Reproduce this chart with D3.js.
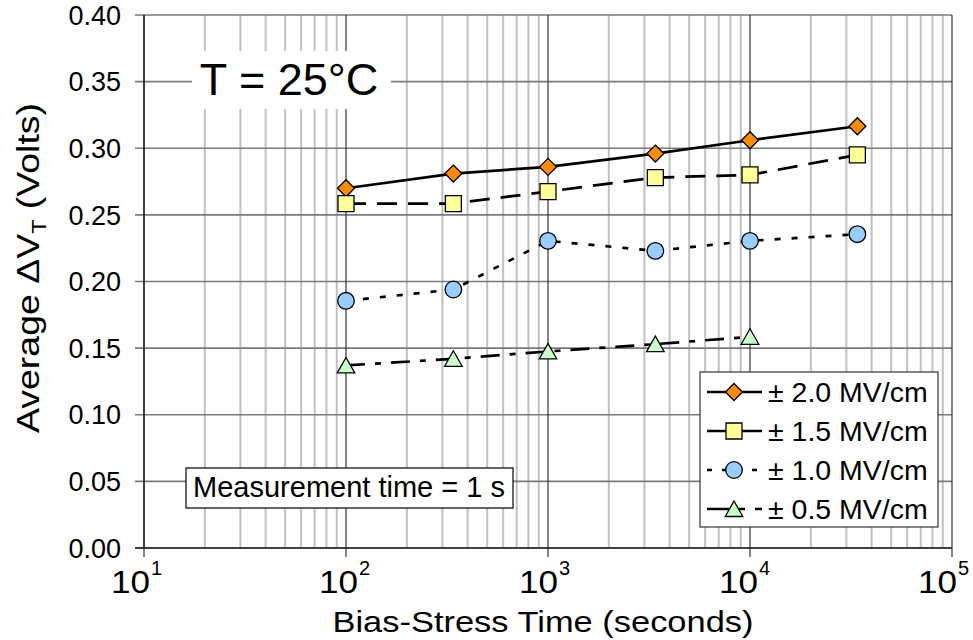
<!DOCTYPE html>
<html>
<head>
<meta charset="utf-8">
<script src="https://cdn.jsdelivr.net/npm/d3@7"></script>
<style>
  html, body { margin: 0; padding: 0; background: #fff; }
  svg { display: block; font-family: "Liberation Sans", Arial, Helvetica, sans-serif; }
</style>
</head>
<body>
<svg id="chart" width="973" height="640"></svg>
<script>
// Bias-stress time (s) and average threshold-voltage shift (V) per field strength
const stressTimes = [100, 340, 1000, 3400, 10000, 34000];
const dvt20 = [0.270, 0.281, 0.286, 0.296, 0.306, 0.3165];
const dvt15 = [0.2585, 0.2585, 0.2675, 0.278, 0.280, 0.295];
const dvt10 = [0.1855, 0.194, 0.2305, 0.223, 0.2305, 0.2355];
const dvt05 = [0.137, 0.142, 0.1475, 0.153, 0.1585];

const seriesLabels = ["± 2.0 MV/cm", "± 1.5 MV/cm", "± 1.0 MV/cm", "± 0.5 MV/cm"];
const yTicks = [0, 0.05, 0.10, 0.15, 0.20, 0.25, 0.30, 0.35, 0.40];
const xDecades = [1, 2, 3, 4, 5];

const svg = d3.select("#chart");
const plotL = 144, plotR = 952, plotT = 15, plotB = 548;

const x = d3.scaleLog().domain([10, 1e5]).range([plotL, plotR]);
const y = d3.scaleLinear().domain([0, 0.4]).range([plotB, plotT]);

// minor vertical grid (2..9 within each decade)
const minor = [];
for (let e = 1; e < 5; e++) for (let k = 2; k <= 9; k++) minor.push(k * Math.pow(10, e));
svg.append("g").selectAll("line").data(minor).join("line")
  .attr("x1", d => x(d)).attr("x2", d => x(d))
  .attr("y1", plotT).attr("y2", plotB)
  .attr("stroke", "#c0c0c0").attr("stroke-width", 2);

// horizontal grid
svg.append("g").selectAll("line").data(yTicks).join("line")
  .attr("x1", plotL - 9).attr("x2", plotR)
  .attr("y1", d => y(d)).attr("y2", d => y(d))
  .attr("stroke", "#7a7a7a").attr("stroke-width", 1.6);

// major vertical grid at decades
svg.append("g").selectAll("line").data(xDecades).join("line")
  .attr("x1", d => x(Math.pow(10, d))).attr("x2", d => x(Math.pow(10, d)))
  .attr("y1", plotT).attr("y2", plotB + 9)
  .attr("stroke", "#333").attr("stroke-width", 1.2);

// axis lines
svg.append("line").attr("x1", plotL).attr("x2", plotL).attr("y1", plotT).attr("y2", plotB)
  .attr("stroke", "#222").attr("stroke-width", 1.4);
svg.append("line").attr("x1", plotL - 9).attr("x2", plotR).attr("y1", plotB).attr("y2", plotB)
  .attr("stroke", "#222").attr("stroke-width", 1.4);

// y tick labels
svg.append("g").selectAll("text").data(yTicks).join("text")
  .attr("x", 121).attr("y", d => y(d)).attr("dy", "0.36em")
  .attr("text-anchor", "end").attr("font-size", 27).attr("fill", "#000")
  .text(d3.format(".2f"));

// x tick labels (10^n): mantissa and exponent as separate texts
const xOffset = [6, 12, 10, 8, 5];
const xg = svg.append("g");
xg.selectAll("text.base").data(xDecades).join("text").attr("class", "base")
  .attr("x", (d, i) => x(Math.pow(10, d)) + xOffset[i]).attr("y", 593)
  .attr("text-anchor", "end").attr("font-size", 32)
  .attr("textLength", 39).attr("lengthAdjust", "spacingAndGlyphs").text("10");
xg.selectAll("text.exp").data(xDecades).join("text").attr("class", "exp")
  .attr("x", (d, i) => x(Math.pow(10, d)) + xOffset[i] + 1).attr("y", 575)
  .attr("font-size", 20).text(d => d);

// axis titles
svg.append("text").attr("x", 543).attr("y", 632).attr("text-anchor", "middle")
  .attr("font-size", 30).attr("textLength", 421).attr("lengthAdjust", "spacingAndGlyphs")
  .text("Bias-Stress Time (seconds)");

const yt = svg.append("text").attr("transform", "translate(39,268) rotate(-90)")
  .attr("text-anchor", "middle").attr("font-size", 32)
  .attr("textLength", 330).attr("lengthAdjust", "spacingAndGlyphs");
yt.append("tspan").text("Average \u0394V");
yt.append("tspan").attr("font-size", 20).attr("dy", 7).text("T");
yt.append("tspan").attr("dy", -7).text(" (Volts)");

// annotation boxes
svg.append("rect").attr("x", 192).attr("y", 51).attr("width", 199).attr("height", 58).attr("fill", "#fff");
svg.append("text").attr("x", 289).attr("y", 95).attr("text-anchor", "middle")
  .attr("font-size", 45).text("T = 25°C");

svg.append("rect").attr("x", 186).attr("y", 468).attr("width", 327).attr("height", 40)
  .attr("fill", "#fff").attr("stroke", "#000").attr("stroke-width", 1.2);
svg.append("text").attr("x", 349).attr("y", 497).attr("text-anchor", "middle")
  .attr("font-size", 29).text("Measurement time = 1 s");

// series
const markerPath = {
  diamond: "M0,-8.5L8.5,0L0,8.5L-8.5,0Z",
  square: "M-8,-8H8V8H-8Z",
  circle: d3.symbol(d3.symbolCircle, Math.PI * 8.3 * 8.3)(),
  triangle: "M0,-8L8.8,7.5H-8.8Z"
};
const series = [
  { values: dvt20, fill: "#FF8C00", marker: "diamond", dash: null },
  { values: dvt15, fill: "#FFFF99", marker: "square", dash: "20,11" },
  { values: dvt10, fill: "#99CCFF", marker: "circle", dash: "6,11" },
  { values: dvt05, fill: "#CCFFCC", marker: "triangle", dash: "19,10,6,10" }
];

const line = d3.line().x(d => x(d[0])).y(d => y(d[1]));
series.forEach(s => {
  const pts = s.values.map((v, i) => [stressTimes[i], v]);
  svg.append("path").datum(pts).attr("d", line)
    .attr("fill", "none").attr("stroke", "#000").attr("stroke-width", 2.7)
    .attr("stroke-dasharray", s.dash);
});
series.forEach(s => {
  const pts = s.values.map((v, i) => [stressTimes[i], v]);
  svg.append("g").selectAll("path").data(pts).join("path")
    .attr("transform", d => `translate(${x(d[0])},${y(d[1])})`)
    .attr("d", markerPath[s.marker])
    .attr("fill", s.fill).attr("stroke", "#000").attr("stroke-width", 1.3);
});

// legend
const lg = svg.append("g");
lg.append("rect").attr("x", 700).attr("y", 372).attr("width", 238).attr("height", 155)
  .attr("fill", "#fff").attr("stroke", "#333").attr("stroke-width", 1.2);
const rowY = [392, 431, 470, 509];
const legendDash = [null, null, "5,10", "22,10,6,10"];
series.forEach((s, i) => {
  lg.append("line").attr("x1", 707).attr("x2", 762).attr("y1", rowY[i]).attr("y2", rowY[i])
    .attr("stroke", "#000").attr("stroke-width", 2.7).attr("stroke-dasharray", legendDash[i]);
  lg.append("path").attr("transform", `translate(734,${rowY[i]})`)
    .attr("d", markerPath[s.marker])
    .attr("fill", s.fill).attr("stroke", "#000").attr("stroke-width", 1.3);
  lg.append("text").attr("x", 768).attr("y", rowY[i] + 10).attr("font-size", 28.5)
    .text(seriesLabels[i]);
});
</script>
</body>
</html>
